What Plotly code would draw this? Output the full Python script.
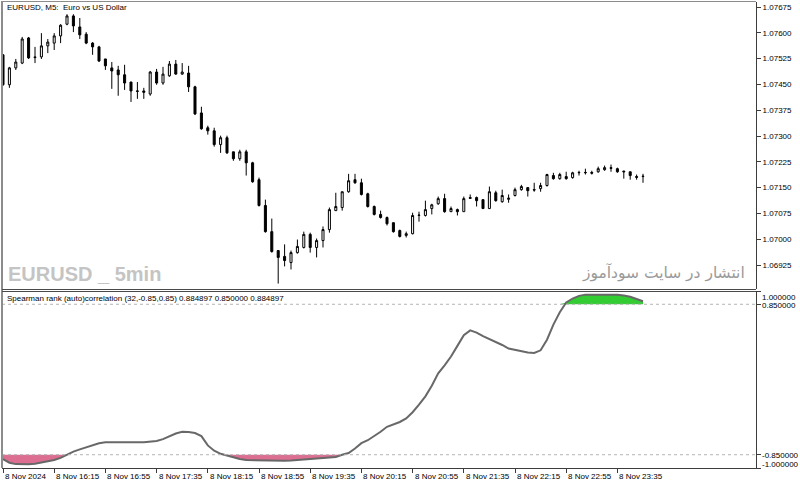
import numpy as np
import pandas as pd
import plotly.graph_objects as go

# ---------------- data ----------------
start_time = "2024-11-08 15:35"
bar_minutes = 5
n_bars = 101
times = pd.date_range(start_time, periods=n_bars, freq=f"{bar_minutes}min")

open_ = [1.07536, 1.07449, 1.07498, 1.07512, 1.07585, 1.07530, 1.07530, 1.07562, 1.07570, 1.07591,
         1.07625, 1.07649, 1.07617, 1.07596, 1.07570, 1.07559, 1.07524, 1.07498, 1.07492, 1.07478,
         1.07457, 1.07431, 1.07431, 1.07422, 1.07486, 1.07454, 1.07475, 1.07509, 1.07480, 1.07483,
         1.07443, 1.07367, 1.07324, 1.07315, 1.07275, 1.07295, 1.07254, 1.07234, 1.07254, 1.07222,
         1.07173, 1.07098, 1.07022, 1.06967, 1.06950, 1.06932, 1.06961, 1.06976, 1.07014, 1.06976,
         1.06996, 1.07028, 1.07083, 1.07092, 1.07138, 1.07173, 1.07164, 1.07132, 1.07095, 1.07072,
         1.07063, 1.07048, 1.07025, 1.07011, 1.07016, 1.07069, 1.07069, 1.07089, 1.07103, 1.07118,
         1.07080, 1.07086, 1.07080, 1.07121, 1.07121, 1.07115, 1.07089, 1.07135, 1.07109, 1.07116,
         1.07127, 1.07144, 1.07150, 1.07144, 1.07147, 1.07156, 1.07185, 1.07176, 1.07182, 1.07179,
         1.07193, 1.07193, 1.07194, 1.07196, 1.07202, 1.07208, 1.07205, 1.07198, 1.07196, 1.07182,
         1.07182]
high = [1.07538, 1.07501, 1.07524, 1.07588, 1.07588, 1.07559, 1.07599, 1.07582, 1.07599, 1.07625,
        1.07654, 1.07654, 1.07643, 1.07602, 1.07573, 1.07562, 1.07524, 1.07515, 1.07504, 1.07507,
        1.07457, 1.07457, 1.07440, 1.07489, 1.07495, 1.07501, 1.07518, 1.07521, 1.07512, 1.07504,
        1.07446, 1.07385, 1.07330, 1.07324, 1.07301, 1.07301, 1.07254, 1.07260, 1.07260, 1.07225,
        1.07179, 1.07115, 1.07060, 1.06967, 1.06985, 1.06967, 1.06999, 1.07022, 1.07019, 1.07002,
        1.07037, 1.07092, 1.07135, 1.07138, 1.07190, 1.07190, 1.07176, 1.07135, 1.07098, 1.07083,
        1.07066, 1.07048, 1.07028, 1.07022, 1.07077, 1.07080, 1.07112, 1.07103, 1.07124, 1.07132,
        1.07095, 1.07089, 1.07124, 1.07130, 1.07124, 1.07115, 1.07153, 1.07141, 1.07144, 1.07130,
        1.07150, 1.07158, 1.07150, 1.07164, 1.07164, 1.07190, 1.07193, 1.07193, 1.07196, 1.07196,
        1.07199, 1.07205, 1.07199, 1.07211, 1.07214, 1.07217, 1.07208, 1.07199, 1.07196, 1.07188,
        1.07190]
low = [1.07446, 1.07440, 1.07492, 1.07509, 1.07524, 1.07512, 1.07524, 1.07541, 1.07550, 1.07570,
       1.07622, 1.07602, 1.07582, 1.07567, 1.07536, 1.07515, 1.07492, 1.07437, 1.07417, 1.07434,
       1.07399, 1.07408, 1.07408, 1.07417, 1.07449, 1.07449, 1.07472, 1.07478, 1.07478, 1.07428,
       1.07361, 1.07318, 1.07304, 1.07269, 1.07251, 1.07248, 1.07228, 1.07228, 1.07185, 1.07164,
       1.07095, 1.07019, 1.06961, 1.06871, 1.06921, 1.06912, 1.06958, 1.06973, 1.06961, 1.06947,
       1.06976, 1.07019, 1.07083, 1.07083, 1.07135, 1.07161, 1.07127, 1.07092, 1.07069, 1.07060,
       1.07040, 1.07019, 1.07005, 1.07005, 1.07014, 1.07051, 1.07066, 1.07072, 1.07100, 1.07077,
       1.07080, 1.07069, 1.07080, 1.07118, 1.07095, 1.07089, 1.07089, 1.07109, 1.07106, 1.07106,
       1.07124, 1.07141, 1.07124, 1.07138, 1.07138, 1.07153, 1.07173, 1.07173, 1.07173, 1.07176,
       1.07185, 1.07188, 1.07188, 1.07193, 1.07199, 1.07196, 1.07193, 1.07176, 1.07173, 1.07173,
       1.07164]
close = [1.07449, 1.07498, 1.07515, 1.07582, 1.07527, 1.07528, 1.07562, 1.07573, 1.07591, 1.07622,
         1.07649, 1.07620, 1.07594, 1.07570, 1.07559, 1.07518, 1.07504, 1.07489, 1.07478, 1.07454,
         1.07431, 1.07430, 1.07427, 1.07486, 1.07454, 1.07480, 1.07509, 1.07480, 1.07486, 1.07443,
         1.07364, 1.07321, 1.07315, 1.07275, 1.07295, 1.07251, 1.07234, 1.07254, 1.07222, 1.07167,
         1.07098, 1.07022, 1.06964, 1.06947, 1.06938, 1.06961, 1.06979, 1.07014, 1.06976, 1.06996,
         1.07028, 1.07086, 1.07095, 1.07138, 1.07170, 1.07164, 1.07130, 1.07095, 1.07072, 1.07063,
         1.07045, 1.07022, 1.07008, 1.07016, 1.07069, 1.07070, 1.07086, 1.07100, 1.07118, 1.07080,
         1.07089, 1.07080, 1.07118, 1.07119, 1.07112, 1.07089, 1.07138, 1.07112, 1.07127, 1.07119,
         1.07144, 1.07153, 1.07141, 1.07143, 1.07156, 1.07188, 1.07176, 1.07188, 1.07176, 1.07193,
         1.07194, 1.07194, 1.07192, 1.07205, 1.07208, 1.07206, 1.07196, 1.07196, 1.07185, 1.07180,
         1.07183]

spearman = [-0.900, -0.940, -0.956, -0.958, -0.957, -0.952, -0.940, -0.930, -0.910, -0.885,
            -0.850, -0.815, -0.790, -0.765, -0.740, -0.720, -0.710, -0.708, -0.708, -0.708,
            -0.708, -0.708, -0.708, -0.703, -0.695, -0.674, -0.640, -0.610, -0.590, -0.593,
            -0.605, -0.640, -0.745, -0.805, -0.840, -0.862, -0.880, -0.898, -0.910, -0.912,
            -0.914, -0.915, -0.916, -0.917, -0.917, -0.915, -0.910, -0.903, -0.896, -0.892,
            -0.889, -0.887, -0.875, -0.850, -0.830, -0.780, -0.720, -0.686, -0.640, -0.590,
            -0.534, -0.510, -0.480, -0.440, -0.370, -0.285, -0.190, -0.070, 0.070, 0.160,
            0.260, 0.380, 0.500, 0.555, 0.530, 0.490, 0.456, 0.430, 0.390, 0.350,
            0.335, 0.325, 0.305, 0.300, 0.330, 0.450, 0.620, 0.760, 0.870, 0.915,
            0.945, 0.959, 0.960, 0.960, 0.960, 0.960, 0.958, 0.948, 0.934, 0.910,
            0.885]

level_high = 0.85
level_low = -0.85

price_ticks = [1.06925, 1.07000, 1.07075, 1.07150, 1.07225, 1.07300,
               1.07375, 1.07450, 1.07525, 1.07600, 1.07675]
price_tick_labels = ["1.06925", "1.07000", "1.07075", "1.07150", "1.07225", "1.07300",
                     "1.07375", "1.07450", "1.07525", "1.07600", "1.07675"]

ind_ticks = [1.0, 0.85, -0.85, -1.0]
ind_tick_labels = ["1.000000", "0.850000", "-0.850000", "-1.000000"]

xtick_times = ["2024-11-08 15:35", "2024-11-08 16:15", "2024-11-08 16:55", "2024-11-08 17:35",
               "2024-11-08 18:15", "2024-11-08 18:55", "2024-11-08 19:35", "2024-11-08 20:15",
               "2024-11-08 20:55", "2024-11-08 21:35", "2024-11-08 22:15", "2024-11-08 22:55",
               "2024-11-08 23:35"]
xtick_labels = ["8 Nov 2024", "8 Nov 16:15", "8 Nov 16:55", "8 Nov 17:35", "8 Nov 18:15",
                "8 Nov 18:55", "8 Nov 19:35", "8 Nov 20:15", "8 Nov 20:55", "8 Nov 21:35",
                "8 Nov 22:15", "8 Nov 22:55", "8 Nov 23:35"]

chart_title = "EURUSD, M5:  Euro vs US Dollar"
indicator_title = "Spearman rank (auto)correlation (32,-0.85,0.85) 0.884897 0.850000 0.884897"
watermark_left = "EURUSD _ 5min"
watermark_right = "انتشار در سایت سودآموز"

# ---------------- geometry helpers ----------------
W, H = 800, 485
def px(x):
    return x / W
def py(y):
    return 1 - y / H

X0, X1 = 2, 756
P_TOP, P_BOT = 2, 289
I_TOP, I_BOT = 291, 468

t0 = pd.Timestamp(start_time)
step = pd.Timedelta(minutes=bar_minutes)
bar_px = 6.4
first_bar_px = 3
x_lo = t0 + step * ((X0 - first_bar_px) / bar_px)
x_hi = t0 + step * ((X1 - first_bar_px) / bar_px)

px_per_unit = 34400.0
p_ref, y_ref = 1.07675, 7
p_top = p_ref + (y_ref - P_TOP) / px_per_unit
p_bot = p_ref - (P_BOT - y_ref) / px_per_unit

FONT = "Liberation Sans, Arial, sans-serif"
AXC = "#3c3c3c"

fig = go.Figure()

fig.add_trace(go.Candlestick(
    x=times, open=open_, high=high, low=low, close=close,
    increasing=dict(line=dict(color="black", width=1), fillcolor="white"),
    decreasing=dict(line=dict(color="black", width=1), fillcolor="black"),
    whiskerwidth=0, xaxis="x", yaxis="y", hoverinfo="skip", showlegend=False,
))

sp = np.array(spearman)
upper = np.maximum(sp, level_high)
lower = np.minimum(sp, level_low)

fig.add_trace(go.Scatter(x=times, y=[level_high] * n_bars, mode="lines",
                         line=dict(width=0), xaxis="x2", yaxis="y2",
                         hoverinfo="skip", showlegend=False))
fig.add_trace(go.Scatter(x=times, y=upper, mode="lines", line=dict(width=0),
                         fill="tonexty", fillcolor="#33cc33", xaxis="x2", yaxis="y2",
                         hoverinfo="skip", showlegend=False))
fig.add_trace(go.Scatter(x=times, y=[level_low] * n_bars, mode="lines",
                         line=dict(width=0), xaxis="x2", yaxis="y2",
                         hoverinfo="skip", showlegend=False))
fig.add_trace(go.Scatter(x=times, y=lower, mode="lines", line=dict(width=0),
                         fill="tonexty", fillcolor="#dc6e92", xaxis="x2", yaxis="y2",
                         hoverinfo="skip", showlegend=False))
fig.add_trace(go.Scatter(x=times, y=spearman, mode="lines",
                         line=dict(color="#686868", width=2), xaxis="x2", yaxis="y2",
                         hoverinfo="skip", showlegend=False))

xdom = [px(X0), px(X1)]
fig.update_layout(
    width=W, height=H,
    margin=dict(l=0, r=0, t=0, b=0),
    paper_bgcolor="white", plot_bgcolor="white",
    font=dict(family=FONT, size=8, color="black"),
    showlegend=False,
    boxgap=0.55,
    xaxis=dict(domain=xdom, anchor="y", range=[x_lo, x_hi], showgrid=False,
               showticklabels=False, ticks="", zeroline=False,
               rangeslider=dict(visible=False), showline=False),
    yaxis=dict(domain=[py(P_BOT), py(P_TOP)], anchor="x", side="right",
               range=[p_bot, p_top], showgrid=False, zeroline=False,
               tickvals=price_ticks, ticktext=price_tick_labels,
               ticks="outside", ticklen=4, tickcolor=AXC, tickwidth=1,
               showline=True, linecolor=AXC, linewidth=1,
               tickfont=dict(family=FONT, size=8, color="black")),
    xaxis2=dict(domain=xdom, anchor="y2", matches="x", showgrid=False,
                tickvals=xtick_times, showticklabels=False,
                ticks="outside", ticklen=4, tickcolor=AXC,
                showline=True, linecolor=AXC, linewidth=1, zeroline=False),
    yaxis2=dict(domain=[py(I_BOT), py(I_TOP)], anchor="x2", side="right",
                range=[-1, 1], showgrid=False, zeroline=False,
                tickvals=ind_ticks, showticklabels=False,
                ticks="outside", ticklen=4, tickcolor=AXC,
                showline=True, linecolor=AXC, linewidth=1),
)

shapes = []
# level lines
for lv in (level_high, level_low):
    shapes.append(dict(type="line", xref="paper", yref="y2", x0=px(X0), x1=px(X1),
                       y0=lv, y1=lv, line=dict(color="#b4b4b4", width=1, dash="dot")))
# borders
shapes.append(dict(type="line", xref="paper", yref="paper", x0=px(2), x1=px(2),
                   y0=py(I_BOT), y1=py(1), line=dict(color="#8c8c8c", width=2)))
shapes.append(dict(type="line", xref="paper", yref="paper", x0=px(X0), x1=px(X1),
                   y0=py(1.5), y1=py(1.5), line=dict(color="#8c8c8c", width=1)))
shapes.append(dict(type="line", xref="paper", yref="paper", x0=px(X0), x1=px(X1),
                   y0=py(289.5), y1=py(289.5), line=dict(color="#4a4a4a", width=1)))
shapes.append(dict(type="line", xref="paper", yref="paper", x0=px(X0), x1=px(X1),
                   y0=py(291.5), y1=py(291.5), line=dict(color="#4a4a4a", width=1)))
fig.update_layout(shapes=shapes)

ann = []
ann.append(dict(text=chart_title, xref="paper", yref="paper", x=px(5), y=py(7.5),
                xanchor="left", yanchor="middle", showarrow=False,
                font=dict(family=FONT, size=8, color="black")))
ann.append(dict(text=indicator_title, xref="paper", yref="paper", x=px(5), y=py(298.5),
                xanchor="left", yanchor="middle", showarrow=False,
                font=dict(family=FONT, size=8, color="black")))
ann.append(dict(text="<b>" + watermark_left + "</b>", xref="paper", yref="paper",
                x=px(6), y=py(274), xanchor="left", yanchor="middle", showarrow=False,
                font=dict(family="Liberation Sans Narrow, Arial Narrow, Liberation Sans, sans-serif",
                          size=20, color="#c4c4c4")))
ann.append(dict(text=watermark_right, xref="paper", yref="paper",
                x=px(747), y=py(272), xanchor="right", yanchor="middle", showarrow=False,
                font=dict(family="DejaVu Sans, sans-serif", size=15.5, color="#9a9a9a")))
# indicator axis labels (MT5 shifts the edge labels inward)
ind_label_y = [297.5, 305.5, 455.5, 464.5]
for lab, yy in zip(ind_tick_labels, ind_label_y):
    ann.append(dict(text=lab, xref="paper", yref="paper", x=px(760), y=py(yy),
                    xanchor="left", yanchor="middle", showarrow=False,
                    font=dict(family=FONT, size=8, color="black")))
# time labels, left-aligned at their ticks
for tt, lab in zip(xtick_times, xtick_labels):
    ann.append(dict(text=lab, xref="x2", yref="paper", x=tt, y=py(476.5),
                    xanchor="left", yanchor="middle", showarrow=False, xshift=0,
                    font=dict(family=FONT, size=8, color="black")))
fig.update_layout(annotations=ann)

fig.write_html("out.html", config={"displayModeBar": False})
